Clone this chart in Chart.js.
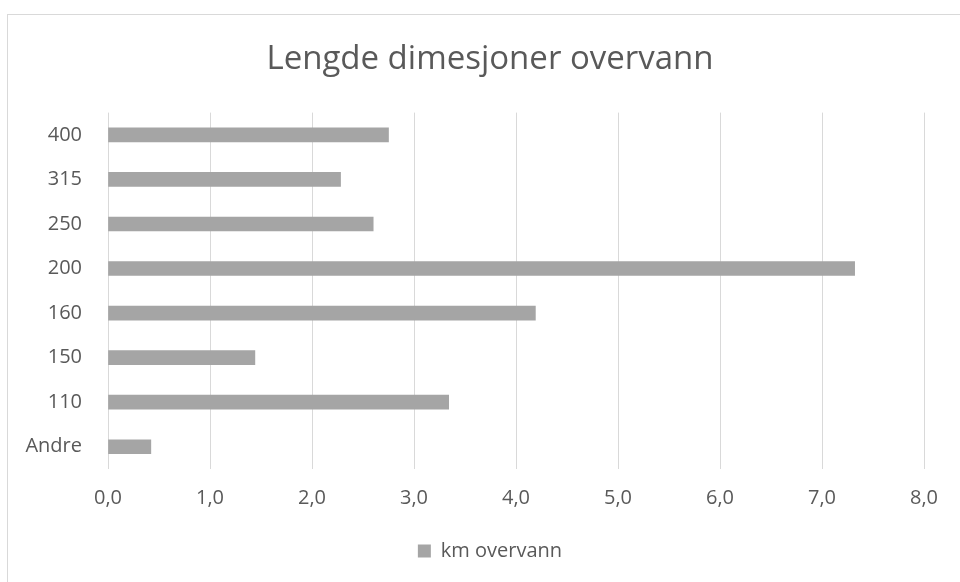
<!DOCTYPE html>
<html>
<head>
<meta charset="utf-8">
<script src="https://cdn.jsdelivr.net/npm/chart.js@4/dist/chart.umd.min.js"></script>
<style>
  html, body { margin: 0; padding: 0; background: #ffffff; }
  body { width: 960px; height: 582px; position: relative; overflow: hidden; }
  #frame {
    position: absolute; left: 7px; top: 14px; right: 0; bottom: 0;
    border-left: 1px solid #d9d9d9; border-top: 1px solid #d9d9d9;
  }
  #chart { position: absolute; left: 0; top: 0; }
</style>
</head>
<body>
<div id="frame"></div>
<canvas id="chart" width="960" height="582"></canvas>
<script>
// Pipe dimensions (mm) and total length in km
const categories = ['400', '315', '250', '200', '160', '150', '110', 'Andre'];
const kmOvervann = [2.75, 2.28, 2.60, 7.32, 4.19, 1.44, 3.34, 0.42];
const xTicks = [0, 1, 2, 3, 4, 5, 6, 7, 8];

const textGray = '#595959';
const fontFamily = '"Open Sans", "Liberation Sans", sans-serif';

const fmt = v => Number(v).toFixed(1).replace('.', ',');

// Let the category labels use the space to the left of the padded box,
// so they are not clipped to the narrow axis column.
const widenCategoryAxis = {
  id: 'widenCategoryAxis',
  afterLayout(chart) {
    chart.scales.y.left = 0;
  }
};

new Chart(document.getElementById('chart'), {
  type: 'bar',
  data: {
    labels: categories,
    datasets: [{
      label: 'km overvann',
      data: kmOvervann,
      backgroundColor: '#a5a5a5',
      borderWidth: 0,
      barThickness: 14
    }]
  },
  plugins: [widenCategoryAxis],
  options: {
    indexAxis: 'y',
    responsive: false,
    animation: false,
    layout: { padding: { left: 56, right: 36, top: 0, bottom: 11 } },
    plugins: {
      title: {
        display: true,
        text: 'Lengde dimesjoner overvann',
        color: textGray,
        font: { family: fontFamily, size: 33, weight: 'normal' },
        padding: { top: 40, bottom: 33 }
      },
      legend: {
        display: true,
        position: 'bottom',
        labels: {
          color: textGray,
          font: { family: fontFamily, size: 20 },
          boxWidth: 13,
          boxHeight: 13,
          padding: 10
        }
      },
      tooltip: { enabled: false }
    },
    scales: {
      x: {
        min: 0,
        max: 8,
        afterBuildTicks: s => { s.ticks = xTicks.map(v => ({ value: v })); },
        afterFit: s => { s.height = 62; },
        grid: { color: '#d9d9d9', lineWidth: 1, drawTicks: false },
        border: { display: false },
        ticks: {
          color: textGray,
          font: { family: fontFamily, size: 20 },
          padding: 17,
          callback: v => fmt(v)
        }
      },
      y: {
        afterFit: s => { s.width = 52; },
        grid: { display: false, drawTicks: false },
        border: { display: false },
        ticks: {
          color: textGray,
          font: { family: fontFamily, size: 20 },
          padding: 26
        }
      }
    }
  }
});
</script>
</body>
</html>
